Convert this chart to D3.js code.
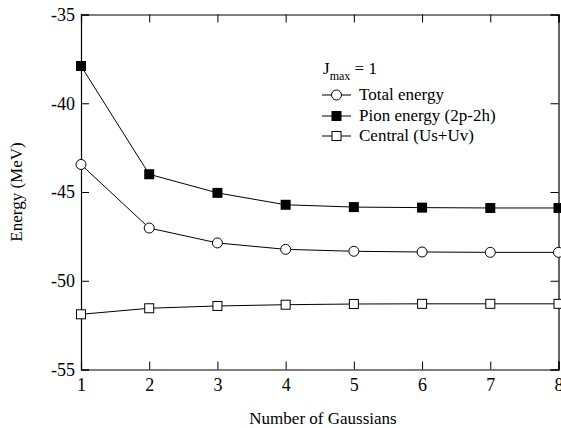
<!DOCTYPE html>
<html>
<head>
<meta charset="utf-8">
<script src="https://cdn.jsdelivr.net/npm/d3@7"></script>
</head>
<body style="margin:0">
<div id="root"></div>
<script>
var config = {
  chartWidth: 561,
  chartHeight: 428,
  font: 'Times New Roman'
};

// x values: number of Gaussians
const gaussians = [1, 2, 3, 4, 5, 6, 7, 8];
const totalEnergy = [-43.45, -47.03, -47.87, -48.23, -48.34, -48.38, -48.40, -48.40];
const pionEnergy = [-37.9, -44.0, -45.05, -45.72, -45.85, -45.88, -45.9, -45.9];
const centralEnergy = [-51.89, -51.55, -51.42, -51.35, -51.31, -51.3, -51.3, -51.3];
const xTicks = [1, 2, 3, 4, 5, 6, 7, 8];
const yTicks = [-55, -50, -45, -40, -35];
const seriesNames = ['Total energy', 'Pion energy (2p-2h)', 'Central (Us+Uv)'];

const margin = {left: 81, right: 2.5, top: 14.5, bottom: 58.5};
const plotW = config.chartWidth - margin.left - margin.right;
const plotH = config.chartHeight - margin.top - margin.bottom;

const x = d3.scaleLinear().domain([1, 8]).range([margin.left, margin.left + plotW]);
const y = d3.scaleLinear().domain([-55, -35]).range([margin.top + plotH, margin.top]);

const chart = d3.select('#root')
  .append('svg')
  .attr('width', config.chartWidth)
  .attr('height', config.chartHeight)
  .attr('font-family', config.font);

// plain hyphen instead of unicode minus
const fmt = d => String(d);

// Axes, ticks point inward
const tickLen = 8;
const bottomAxis = chart.append('g')
  .attr('transform', `translate(0,${y(-55)})`)
  .call(d3.axisBottom(x).tickValues(xTicks).tickSize(-tickLen).tickPadding(tickLen + 1).tickFormat(fmt));

chart.append('g')
  .attr('transform', `translate(0,${y(-35)})`)
  .call(d3.axisTop(x).tickValues(xTicks).tickSize(-tickLen).tickFormat(''));

const leftAxis = chart.append('g')
  .attr('transform', `translate(${x(1)},0)`)
  .call(d3.axisLeft(y).tickValues(yTicks).tickSize(-tickLen).tickPadding(tickLen - 2).tickFormat(fmt));

chart.append('g')
  .attr('transform', `translate(${x(8)},0)`)
  .call(d3.axisRight(y).tickValues(yTicks).tickSize(-tickLen).tickFormat(''));

// d3.axis puts sans-serif on its group, override it
chart.selectAll('g').attr('font-family', config.font).attr('font-size', 18);
chart.selectAll('.domain').attr('stroke', '#000').attr('stroke-width', 1.2);
chart.selectAll('.tick line').attr('stroke', '#000').attr('stroke-width', 1);

// Axis titles
chart.append('text')
  .attr('x', 323)
  .attr('y', 424)
  .attr('text-anchor', 'middle')
  .attr('font-family', config.font)
  .attr('font-size', 17)
  .text('Number of Gaussians');

chart.append('text')
  .attr('transform', `translate(22,${y(-45)}) rotate(-90)`)
  .attr('text-anchor', 'middle')
  .attr('font-family', config.font)
  .attr('font-size', 17)
  .text('Energy (MeV)');

// Series
const series = [
  {name: seriesNames[0], values: totalEnergy, shape: 'circle'},
  {name: seriesNames[1], values: pionEnergy, shape: 'filled'},
  {name: seriesNames[2], values: centralEnergy, shape: 'square'}
];

const line = d3.line()
  .x((d, i) => x(gaussians[i]))
  .y(d => y(d));

function drawMarker(g, shape, cx, cy) {
  if (shape === 'circle') {
    g.append('circle').attr('cx', cx).attr('cy', cy).attr('r', 5)
      .attr('fill', '#fff').attr('stroke', '#000').attr('stroke-width', 1);
  } else if (shape === 'filled') {
    g.append('rect').attr('x', cx - 5).attr('y', cy - 5).attr('width', 10).attr('height', 10)
      .attr('fill', '#000');
  } else {
    g.append('rect').attr('x', cx - 4.5).attr('y', cy - 4.5).attr('width', 9).attr('height', 9)
      .attr('fill', '#fff').attr('stroke', '#000').attr('stroke-width', 1);
  }
}

const plot = chart.append('g');
series.forEach(s => {
  plot.append('path')
    .attr('d', line(s.values))
    .attr('fill', 'none')
    .attr('stroke', '#000')
    .attr('stroke-width', 1);
  s.values.forEach((v, i) => drawMarker(plot, s.shape, x(gaussians[i]), y(v)));
});

// Legend
const jmax = chart.append('text')
  .attr('x', 323)
  .attr('y', 74)
  .attr('font-family', config.font)
  .attr('font-size', 17);
jmax.append('tspan').text('J');
jmax.append('tspan').attr('font-size', 12).attr('dy', 6).text('max');
jmax.append('tspan').attr('dy', -6).text(' = 1');

const legendY = [95, 116, 136];
series.forEach((s, i) => {
  const g = chart.append('g');
  g.append('line')
    .attr('x1', 322).attr('x2', 351)
    .attr('y1', legendY[i]).attr('y2', legendY[i])
    .attr('stroke', '#000').attr('stroke-width', 1);
  drawMarker(g, s.shape, 336.5, legendY[i]);
  g.append('text')
    .attr('x', 359)
    .attr('y', legendY[i] + 5)
    .attr('font-family', config.font)
    .attr('font-size', 17)
    .text(s.name);
});
</script>
</body>
</html>
